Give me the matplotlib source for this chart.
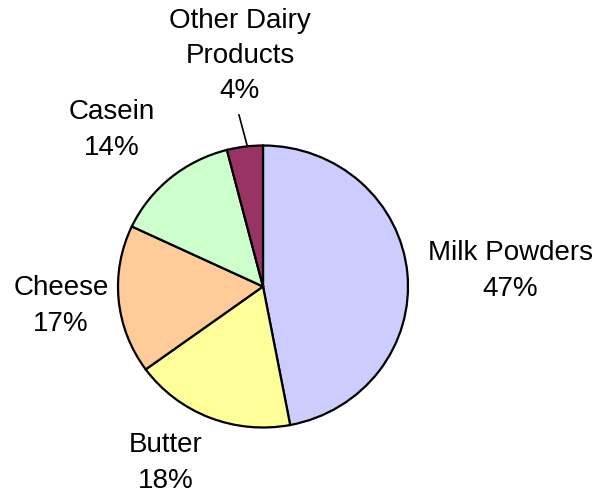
import matplotlib
matplotlib.use('Agg')
import matplotlib.pyplot as plt

matplotlib.rcParams['font.family'] = ['Liberation Sans', 'DejaVu Sans']

labels = ['Milk Powders', 'Butter', 'Cheese', 'Casein', 'Other Dairy\nProducts']
shares = [47, 18, 17, 14, 4]
colors = ['#CCCCFF', '#FFFF99', '#FFCC99', '#CCFFCC', '#993366']

# label centres in pixels, measured from the top-left corner
label_pos = [(510, 271), (166, 463), (61, 306), (112, 130), (240, 56)]

W, H = 596, 498
cx, cy = 263, 286.5      # pie centre (px from top-left)
rx, ry = 145, 141        # the pie is slightly squashed vertically

fig = plt.figure(figsize=(W / 100, H / 100), dpi=100)
ax = fig.add_axes([0, 0, 1, 1])

ax.pie(shares, colors=colors, startangle=90, counterclock=False,
       center=(0, 0), radius=1, frame=True,
       wedgeprops={'edgecolor': 'black', 'linewidth': 1.6})
ax.set_aspect('auto')
ax.set_xlim(-cx / rx, (W - cx) / rx)
ax.set_ylim(-(H - cy) / ry, cy / ry)
ax.axis('off')


def to_axes(x, y):
    return x / W, 1 - y / H


for lab, val, (x, y) in zip(labels, shares, label_pos):
    ax.text(*to_axes(x, y), f'{lab}\n{val}%', transform=ax.transAxes,
            ha='center', va='center', fontsize=20, linespacing=1.46)

# leader line for the small slice
(x0, y0), (x1, y1) = to_axes(247, 145), to_axes(239, 115)
ax.plot([x0, x1], [y0, y1], transform=ax.transAxes, color='black', lw=1.2)

fig.savefig('out.png', dpi=100)
